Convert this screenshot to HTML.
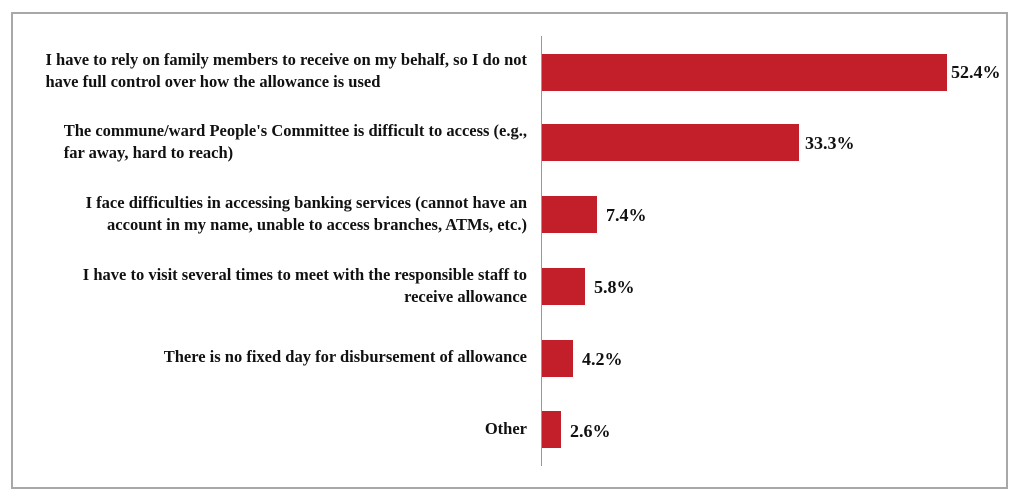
<!DOCTYPE html>
<html><head><meta charset="utf-8"><style>
body{margin:0;width:1024px;height:502px;background:#fff;position:relative;overflow:hidden}
.frame{position:absolute;left:11px;top:12px;width:997px;height:477px;border:2px solid #a8a8a8;box-sizing:border-box}
.axis{position:absolute;left:541px;top:36px;width:1px;height:430px;background:#999}
.bar{position:absolute;left:542px;background:#c21f2a;height:37px}
.lab{position:absolute;right:497px;font-family:"Liberation Serif",serif;font-size:16.5px;font-weight:bold;line-height:22px;color:#111;text-align:right;white-space:nowrap}
.lab.l{text-align:left}
.val{position:absolute;font-family:"Liberation Serif",serif;font-size:18px;font-weight:bold;color:#111}
</style></head><body>
<div class="frame"></div>
<div class="axis"></div>

<div class="lab l" style="top:49px">I have to rely on family members to receive on my behalf, so I do not<br>have full control over how the allowance is used</div>
<div class="bar" style="top:54px;width:405px"></div><div class="val" style="left:951px;top:62px">52.4%</div>

<div class="lab l" style="top:120px">The commune/ward People's Committee is difficult to access (e.g.,<br>far away, hard to reach)</div>
<div class="bar" style="top:124px;width:257px"></div><div class="val" style="left:805px;top:133px">33.3%</div>

<div class="lab" style="top:192px">I face difficulties in accessing banking services (cannot have an<br>account in my name, unable to access branches, ATMs, etc.)</div>
<div class="bar" style="top:196px;width:55px"></div><div class="val" style="left:606px;top:205px">7.4%</div>

<div class="lab" style="top:264px">I have to visit several times to meet with the responsible staff to<br>receive allowance</div>
<div class="bar" style="top:268px;width:43px"></div><div class="val" style="left:594px;top:277px">5.8%</div>

<div class="lab" style="top:346px">There is no fixed day for disbursement of allowance</div>
<div class="bar" style="top:340px;width:31px"></div><div class="val" style="left:582px;top:349px">4.2%</div>

<div class="lab" style="top:418px">Other</div>
<div class="bar" style="top:411px;width:19px"></div><div class="val" style="left:570px;top:421px">2.6%</div>
</body></html>
